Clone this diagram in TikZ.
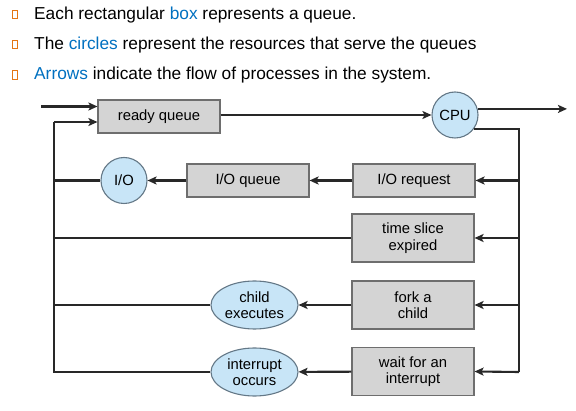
\documentclass[tikz,border=0pt]{standalone}
\usepackage{fontspec}
\setmainfont{Liberation Sans}
\usetikzlibrary{arrows.meta,shapes.geometric}
\definecolor{hl}{RGB}{0,112,192}
\definecolor{bul}{RGB}{228,118,20}
\definecolor{boxfill}{RGB}{212,212,212}
\definecolor{boxline}{RGB}{110,110,110}
\definecolor{cirfill}{RGB}{200,229,247}
\definecolor{cirline}{RGB}{100,120,135}
\definecolor{wire}{RGB}{40,40,40}
\tikzset{
  queuebox/.style={draw=boxline,fill=boxfill,line width=1.1pt,minimum width=122pt,inner sep=0pt,align=center,font=\fontsize{14.8}{16.5}\selectfont},
  resource/.style={draw=cirline,fill=cirfill,line width=1.1pt,circle,minimum size=46pt,inner sep=0pt,font=\fontsize{14.8}{16.5}\selectfont},
  resell/.style={draw=cirline,fill=cirfill,line width=1.1pt,ellipse,minimum width=87pt,minimum height=48pt,inner sep=0pt,align=center,font=\fontsize{14.8}{16.5}\selectfont},
  wireline/.style={draw=wire,line width=2.1pt},
  arr/.style={wireline,-{Stealth[length=9pt,width=8pt,inset=2pt]}},
  bulletbox/.style={draw=bul,line width=1.1pt,minimum width=4.5pt,minimum height=8.5pt,inner sep=0pt},
  title/.style={anchor=west,inner sep=0pt,font=\fontsize{17.3}{20}\selectfont}
}
\begin{document}
\begin{tikzpicture}[x=1pt,y=-1pt]
\useasboundingbox (0,0) rectangle (576,411);
% header
\node[bulletbox] (b1) at (15,14.5) {};
\node[bulletbox] (b2) at (15,44.5) {};
\node[bulletbox] (b3) at (15,75) {};
\node[title] (t1) at (34,15) {Each rectangular \textcolor{hl}{box} represents a queue.};
\node[title] (t2) at (34,45) {The \textcolor{hl}{circles} represent the resources that serve the queues};
\node[title] (t3) at (34,75) {\textcolor{hl}{Arrows} indicate the flow of processes in the system.};
% nodes
\node[queuebox,minimum height=33pt] (ready) at (159,116.5) {ready queue};
\node[resource] (cpu) at (455,115) {CPU};
\node[queuebox,minimum height=33pt] (ioreq) at (414,180.5) {I/O request};
\node[queuebox,minimum height=33pt] (ioq) at (248,180.5) {I/O queue};
\node[resource] (io) at (124,180.5) {I/O};
\node[queuebox,minimum height=48pt] (ts) at (413,238) {time slice\\expired};
\node[queuebox,minimum height=48pt] (fork) at (413,305) {fork a\\child};
\node[queuebox,minimum height=48pt] (wait) at (413,371.5) {wait for an\\interrupt};
\node[resell] (child) at (254.5,305) {child\\executes};
\node[resell] (intr) at (254.5,372) {interrupt\\occurs};
% coordinates
\coordinate (in1) at (41,106.5);
\coordinate (lt) at (54,122);
\coordinate (lb) at (54,372);
\coordinate (rt) at (519,372);
\coordinate (out) at (567,109);
% connectors
\draw[arr] (in1) -- (in1 -| ready.west);
\draw[wireline] (intr.west) -- (lb) -- (lt);
\draw[arr] (lt) -- (lt -| ready.west);
\draw[wireline] (io.west) -- (io.west -| lt);
\draw[wireline] (ts.west) -- (ts.west -| lt);
\draw[wireline] (child.west) -- (child.west -| lt);
\draw[arr] (ready.east |- cpu.west) -- (cpu.west);
\draw[arr] (cpu.15) -- (cpu.15 -| out);
\draw[wireline] (cpu.-37) -- (cpu.-37 -| rt) -- (rt);
\draw[arr] (ioreq.east -| rt) -- (ioreq.east);
\draw[arr] (ts.east -| rt) -- (ts.east);
\draw[arr] (fork.east -| rt) -- (fork.east);
\draw[arr] (rt) -- (wait.east);
\draw[arr] (ioreq) -- (ioq);
\draw[arr] (ioq) -- (io);
\draw[arr] (fork) -- (child);
\draw[arr] (wait) -- (intr);
\end{tikzpicture}
\end{document}
